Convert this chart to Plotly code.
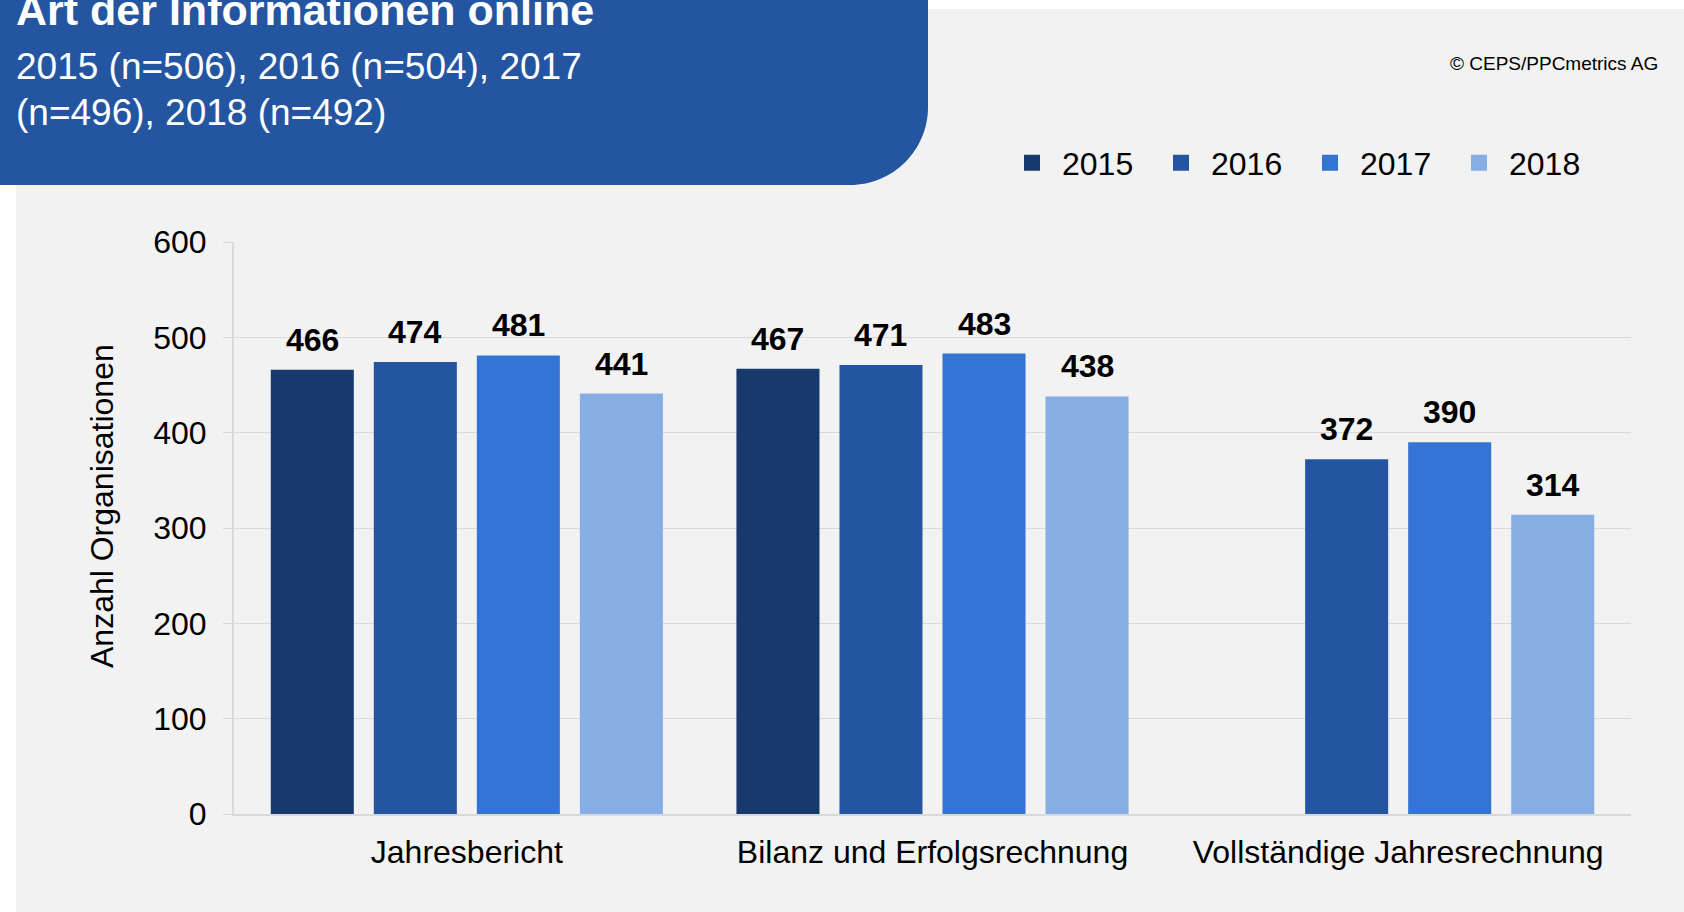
import plotly.graph_objects as go

# ---- data ----
categories = ["Jahresbericht", "Bilanz und Erfolgsrechnung", "Vollständige Jahresrechnung"]
years = ["2015", "2016", "2017", "2018"]
values_2015 = [466, 467, None]
values_2016 = [474, 471, 372]
values_2017 = [481, 483, 390]
values_2018 = [441, 438, 314]
y_ticks = [0, 100, 200, 300, 400, 500, 600]

title_text = "Art der Informationen online"
subtitle_lines = ["2015 (n=506), 2016 (n=504), 2017", "(n=496), 2018 (n=492)"]
y_title = "Anzahl Organisationen"
copyright_text = "© CEPS/PPCmetrics AG"

# ---- style ----
colors = ["#17396b", "#2455a1", "#3474d5", "#86ade4"]
FONT = "Liberation Sans, Arial, sans-serif"
BG = "#f2f2f2"
GRID = "#d9d9d9"
BOX = "#2455a1"

W, H = 1684, 912
L, R, T, B = 234, 53, 242, 98
PW, PH = W - L - R, H - T - B
BARGAP, GROUPGAP = 0.115, 0.194


def px(x):
    return (x - L) / PW


def py(y):
    return (H - B - y) / PH


series = [values_2015, values_2016, values_2017, values_2018]

fig = go.Figure()
for yr, vals, col in zip(years, series, colors):
    fig.add_trace(go.Bar(
        x=categories, y=vals, name=yr, marker=dict(color=col, line=dict(width=0)),
        showlegend=False, hoverinfo="x+y+name",
    ))
# legend entries (square markers)
for yr, col in zip(years, colors):
    fig.add_trace(go.Scatter(
        x=[None], y=[None], mode="markers", name=yr,
        marker=dict(symbol="square", size=17, color=col), showlegend=True,
    ))

# data labels above bars, positioned via category index and bar grouping
n = len(series)
slot = (1 - BARGAP) / n
annotations = []
for j, vals in enumerate(series):
    for i, v in enumerate(vals):
        if v is None:
            continue
        annotations.append(dict(
            x=i + (j - (n - 1) / 2) * slot, y=v, xref="x", yref="y",
            text=f"<b>{v}</b>", showarrow=False, yanchor="bottom", yshift=10,
            font=dict(family=FONT, size=32, color="#000000"),
        ))

annotations += [
    dict(x=px(14), y=py(10), xref="paper", yref="paper", xanchor="left", yanchor="middle",
         text=f"<b>{title_text}</b>", showarrow=False,
         font=dict(family=FONT, size=43, color="#ffffff")),
    dict(x=px(14), y=py(67), xref="paper", yref="paper", xanchor="left", yanchor="middle",
         text=subtitle_lines[0], showarrow=False,
         font=dict(family=FONT, size=37, color="#ffffff")),
    dict(x=px(14), y=py(112), xref="paper", yref="paper", xanchor="left", yanchor="middle",
         text=subtitle_lines[1], showarrow=False,
         font=dict(family=FONT, size=37, color="#ffffff")),
    dict(x=px(1660), y=py(63), xref="paper", yref="paper", xanchor="right", yanchor="middle",
         text=copyright_text, showarrow=False,
         font=dict(family=FONT, size=19, color="#000000")),
    dict(x=px(102), y=py(506), xref="paper", yref="paper", xanchor="center", yanchor="middle",
         text=y_title, textangle=-90, showarrow=False,
         font=dict(family=FONT, size=32, color="#000000")),
]

# background panel and title box
rad = 78
k = 0.5523 * rad
box_path = (
    f"M {px(-2)},{py(-2)} L {px(928)},{py(-2)} L {px(928)},{py(185 - rad)} "
    f"C {px(928)},{py(185 - rad + k)} {px(928 - rad + k)},{py(185)} {px(928 - rad)},{py(185)} "
    f"L {px(-2)},{py(185)} Z"
)
shapes = [
    dict(type="rect", xref="paper", yref="paper", x0=px(16), x1=px(W + 5), y0=py(9), y1=py(H + 5),
         fillcolor=BG, line=dict(width=0), layer="below"),
    dict(type="path", xref="paper", yref="paper", path=box_path,
         fillcolor=BOX, line=dict(width=0), layer="below"),
]

fig.update_layout(
    width=W, height=H,
    margin=dict(l=L, r=R, t=T, b=B, autoexpand=False),
    paper_bgcolor="#ffffff", plot_bgcolor=BG,
    barmode="group", bargap=BARGAP, bargroupgap=GROUPGAP,
    font=dict(family=FONT, size=32, color="#000000"),
    showlegend=True,
    legend=dict(orientation="h", x=px(1002), xanchor="left", y=py(163), yanchor="middle",
                itemwidth=50, entrywidth=84, bgcolor="rgba(0,0,0,0)", borderwidth=0,
                font=dict(family=FONT, size=32, color="#000000"), itemclick=False),
    annotations=annotations, shapes=shapes,
    xaxis=dict(type="category", showgrid=False, showline=True, linecolor=GRID, linewidth=2,
               ticks="outside", ticklen=9, tickcolor="rgba(0,0,0,0)",
               tickfont=dict(family=FONT, size=32, color="#000000"), zeroline=False),
    yaxis=dict(range=[0, 600], tickvals=y_ticks, showgrid=True, gridcolor=GRID, gridwidth=1,
               showline=True, linecolor=GRID, linewidth=2, zeroline=False,
               ticks="outside", ticklen=9, tickcolor=GRID, tickwidth=1,
               ticklabelstandoff=10,
               tickfont=dict(family=FONT, size=32, color="#000000")),
)

fig.write_html("out.html", config={"displayModeBar": False},
               post_script="document.body.style.margin='0';")
